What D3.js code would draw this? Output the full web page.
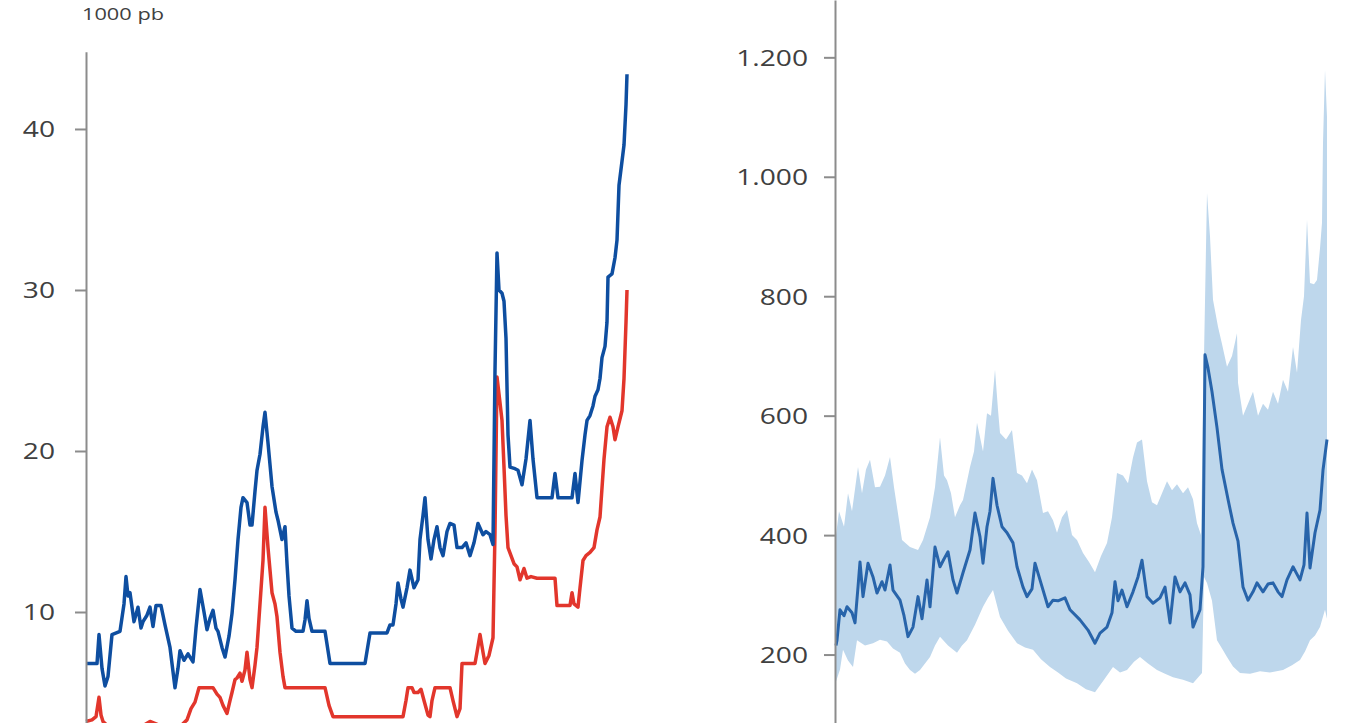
<!DOCTYPE html>
<html>
<head>
<meta charset="UTF-8">
<title>spreads</title>
<style type="text/css">
	body { margin: 0; background: #fff; }
	.axis path, .axis line { stroke: rgb(140, 140, 140); stroke-width: 2px; }
	.axis text { font-family: "Open Sans", sans-serif; font-size: 22px; fill: rgb(64, 64, 64); }
	.unit { font-family: "Open Sans", sans-serif; font-size: 17px; fill: rgb(64, 64, 64); }
</style>
<script type="text/javascript" src="https://cdn.jsdelivr.net/npm/d3@7"></script>
</head>
<body>
<div id="div_main"></div>
<script type="text/javascript">

	// left panel: month index, level in thousand basis points
	var blueT = [0,5.5,6.5,8,9.5,11,13,17,19,20,21,22,24,26,27.5,28.5,30.5,32,33.5,35,37.5,39.5,42,44.5,46,47,49,51,53.5,55,57,59,60.5,62,63.5,65,66,68,69.5,71.5,73,74.5,76,77.5,78.5,80.5,82,83,84.5,85.5,87,88.5,89.5,91,93,95,96,98,99.5,100.5,101.5,103,105,108.5,109.5,110.5,111.5,113,119.5,122,139.5,142,150.5,152,153.5,155,156,157.5,158.5,160.5,162,164,166,167,168.5,169.5,171,172.5,174,175.5,177,178.5,180.5,182,184,185.5,188,190,192,194,196,198.5,200,202,203.5,204.5,205.5,206.5,208,209,210,211,212,214.5,216,218,220,222,223.5,225.5,233,234.5,236,243,244.5,246,248,249.5,250.5,252,253.5,254.5,256,257,258,259.5,260.5,261,263,264.5,265.5,266.5,268,269,270,270.5];
	var blueV = [6.8,6.8,8.6,6.5,5.4,6.0,8.6,8.8,10.5,12.2,11.0,11.2,9.4,10.3,9.0,9.4,9.8,10.3,9.1,10.4,10.4,9.2,7.8,5.3,6.5,7.6,7.0,7.4,6.9,9.0,11.4,10.0,8.9,9.6,10.1,9.0,8.8,7.8,7.2,8.5,9.9,12.0,14.5,16.5,17.1,16.8,15.4,15.4,17.5,18.8,19.8,21.5,22.4,20.5,17.8,16.2,15.7,14.5,15.3,13.0,11.0,9.0,8.8,8.8,9.5,10.7,9.6,8.8,8.8,6.8,6.8,8.7,8.7,9.2,9.2,10.5,11.8,10.8,10.3,11.5,12.6,11.5,12.0,14.5,16.0,17.1,14.5,13.3,14.5,15.3,14.0,13.5,15.0,15.5,15.4,14.0,14.0,14.3,13.5,14.3,15.5,14.8,15.0,14.8,14.2,25.0,32.3,30.0,29.8,29.3,27.0,21.0,19.0,18.9,18.8,17.9,19.5,21.9,19.5,17.1,17.1,18.6,17.1,17.1,18.6,16.8,19.4,21.0,21.9,22.2,22.8,23.4,23.8,24.5,25.8,26.5,28.0,30.8,31.0,32.0,33.1,36.5,38.0,39.0,41.5,43.4];

	var redT = [0,3,5,6.5,7.5,8.5,11,14.5,19.5,24.5,28,32,36,39.5,44.5,48,50.5,52.5,54.5,56.5,63.5,65.5,67,68.5,70.5,72,73,74.5,75.5,77,78,79.5,80.5,82,83,84.5,85.5,87,88.5,89.5,91,93,94.5,95.5,97,98.5,99.5,119.5,121.5,123.5,158.5,160,161,163,164,166,167.5,169,171,172,173,174.5,182,183.5,185.5,187,188,194.5,195.5,197,198.5,199.5,201.5,203.5,204.5,205.5,207,208,209,210,211,212.5,214,215.5,217,219,220.5,222.5,225.5,234.5,235.5,242,243,244,246,247,248.5,250,252,254,255.5,257,259,260.5,262,263.5,264.5,266,268,269,270,270.5];
	var redV = [3.2,3.3,3.5,4.7,3.6,3.2,2.9,2.6,2.5,2.6,2.9,3.2,3.0,2.8,2.8,3.0,3.3,4.0,4.4,5.3,5.3,4.9,4.7,4.2,3.7,4.5,5.0,5.8,5.9,6.2,5.7,6.4,7.5,5.8,5.3,6.7,7.8,10.5,13.2,16.5,14.0,11.2,10.5,9.7,7.5,6.0,5.3,5.3,4.2,3.5,3.5,4.5,5.3,5.3,5.0,5.0,5.2,4.5,3.6,3.5,4.5,5.3,5.3,4.5,3.5,4.0,6.8,6.8,7.5,8.6,7.5,6.8,7.3,8.4,15.0,24.6,23.0,21.9,19.0,16.0,14.0,13.5,13.0,12.8,12.0,12.7,12.1,12.2,12.1,12.1,10.4,10.4,11.2,10.5,10.3,11.5,13.2,13.5,13.7,14.0,15.1,15.9,19.5,21.5,22.1,21.5,20.7,21.5,22.5,24.5,28.0,30.0];

	var leftTicks = [10, 20, 30, 40];

	// right panel: median and band, basis points
	var medT = [0,0.5,2,4,5.5,8,9.5,11,12,13.5,16,18.5,20.5,23,24.5,27,28.5,32,34,36,38.5,41,43,45.5,47,49.5,52,54,56,58.5,60.5,63.5,67,69.5,72,73.5,75.5,77,78.5,80.5,83,85.5,88.5,90.5,93.5,95.5,98,99.5,102,106,108.5,111,114.5,117,122,126,129.5,132,135.5,138,139.5,141,143,145.5,148.5,151,153,155.5,158.5,162,164.5,167,169.5,172,174.5,177,178.5,182,183.5,184.5,186,188,190.5,193,196,198.5,201,203.5,206,208.5,210.5,213.5,216,218.5,221,223,225.5,228.5,232,234,235.5,237,239.5,242,243.5,245.5];
	var medV = [215,224,275,265,280,270,253,313,355,297,353,330,303,322,308,350,308,291,265,230,246,297,260,325,280,380,347,360,372,325,303,337,375,437,397,353,414,440,495,450,414,404,387,347,313,297,310,353,325,280,291,290,295,275,258,241,219,236,246,270,322,290,308,280,305,330,358,297,286,295,313,253,330,305,320,300,246,275,347,702,680,640,580,510,460,420,390,313,291,305,320,305,318,320,305,297,325,347,325,350,437,345,404,442,509,560];

	var upT = [0,1.5,4,6,8,11,13,15,17,19.5,22,24.5,27,29,30.5,33,37,41,43.5,47,49.5,52,54,55.5,57.5,59.5,62,63.5,67,69,70.5,73.5,75.5,77.5,79.5,81,82,85,88,90.5,93,95.5,98,100.5,103.5,106,108.5,110.5,113,115.5,118,120.5,123.5,126.5,129.5,132.5,135.5,138,140.5,143.5,146,148.5,150.5,153,155.5,158,160.5,163,165.5,168,170.5,173.5,176,178.5,180.5,182.5,184,185.5,187,188.5,191,193,195.5,198,200.5,201,203.5,206,208.5,211,213.5,216,218.5,221,223.5,226,228.5,230.5,232.5,234,235.5,237,239,240.5,242,243,243.5,244.5,245.5];
	var upV = [400,440,414,470,440,514,470,510,526,480,481,500,531,480,447,392,380,375,392,430,480,564,500,492,470,430,450,459,514,540,588,540,604,600,677,610,571,560,576,504,500,487,510,492,437,440,425,404,430,442,400,392,370,355,338,365,387,430,504,500,487,530,555,560,490,455,450,470,490,475,485,470,480,460,420,400,700,973,900,794,749,720,682,700,738,655,600,620,640,600,620,610,640,620,660,640,715,672,760,800,928,822,820,827,880,923,1057,1179,1100];

	var lowT = [0,2,3.5,6,8.5,10.5,14.5,18.5,22,25.5,28.5,32,34.5,37,39.5,42,44.5,47,49.5,52,56,60.5,63,65.5,69.5,73.5,76,78.5,82,86,90.5,94.5,98.5,102.5,107,111,115,120.5,125,129.5,134,138.5,142,145.5,149,152,156,160.5,164.5,168.5,173.5,178.5,183,184,185.5,188,190.5,193,195.5,198.5,202,207,212,217,223.5,228,232,234.5,237,239.5,242,244.5,245.5];
	var lowV = [155,175,208,190,179,224,215,219,225,222,210,203,185,174,168,174,185,196,215,230,215,203,215,224,250,280,295,308,263,240,219,212,208,192,179,170,160,152,142,137,158,179,170,174,188,196,185,174,168,162,158,152,169,330,320,290,224,210,196,180,169,168,172,170,174,182,191,205,224,232,246,275,260];

	var rightTicks = [200, 400, 600, 800, 1000, 1200];

	var svg_w = 1346, svg_h = 723;

	var svg = d3.select("#div_main")
		.append("svg")
			.attr("width", svg_w)
			.attr("height", svg_h);

	var fmt = d3.formatLocale({ decimal: ",", thousands: ".", grouping: [3], currency: ["", ""] }).format(",");

	function pairs(ts, vs) {
		return ts.map(function (t, i) { return [t, vs[i]]; });
	}

	function styleLabels(g, offset) {
		g.selectAll(".tick text")
			.attr("x", null)
			.attr("dy", "0.36em")
			.attr("text-anchor", "end")
			.attr("transform", "translate(" + offset + ",0) scale(1.28,1)");
	}

	// ---- left panel ----
	var xL = d3.scaleLinear().domain([0, 270.5]).range([86, 627]);
	var yL = d3.scaleLinear().domain([0, 44.8]).range([773, 51.7]);

	var lineL = d3.line()
		.x(function (d) { return xL(d[0]); })
		.y(function (d) { return yL(d[1]); });

	svg.append("path")
		.datum(pairs(redT, redV))
		.attr("d", lineL)
		.attr("fill", "none")
		.attr("stroke", "rgb(226, 54, 44)")
		.attr("stroke-width", 3.5)
		.attr("stroke-linejoin", "round");

	svg.append("path")
		.datum(pairs(blueT, blueV))
		.attr("d", lineL)
		.attr("fill", "none")
		.attr("stroke", "rgb(14, 78, 160)")
		.attr("stroke-width", 3.5)
		.attr("stroke-linejoin", "round");

	var axisL = svg.append("g")
		.attr("class", "axis")
		.attr("transform", "translate(86,0)")
		.call(d3.axisLeft(yL).tickValues(leftTicks).tickSize(11).tickSizeOuter(0).tickFormat(fmt));
	styleLabels(axisL, -31);

	svg.append("text")
		.attr("class", "unit")
		.attr("transform", "translate(82,20) scale(1.28,1)")
		.text("1000 pb");

	// ---- right panel ----
	var xR = d3.scaleLinear().domain([0, 245.5]).range([836, 1327]);
	var yR = d3.scaleLinear().domain([0, 1296]).range([774, 0]);

	var lineR = d3.line()
		.x(function (d) { return xR(d[0]); })
		.y(function (d) { return yR(d[1]); });

	var band = pairs(upT, upV).concat(pairs(lowT, lowV).reverse());

	svg.append("path")
		.datum(band)
		.attr("d", lineR.curve(d3.curveLinearClosed))
		.attr("fill", "rgb(190, 215, 236)")
		.attr("stroke", "none");

	svg.append("path")
		.datum(pairs(medT, medV))
		.attr("d", lineR.curve(d3.curveLinear))
		.attr("fill", "none")
		.attr("stroke", "rgb(40, 100, 170)")
		.attr("stroke-width", 3)
		.attr("stroke-linejoin", "round");

	var axisR = svg.append("g")
		.attr("class", "axis")
		.attr("transform", "translate(835,0)")
		.call(d3.axisLeft(yR).tickValues(rightTicks).tickSize(11).tickSizeOuter(0).tickFormat(fmt));
	styleLabels(axisR, -27);

</script>
</body>
</html>
